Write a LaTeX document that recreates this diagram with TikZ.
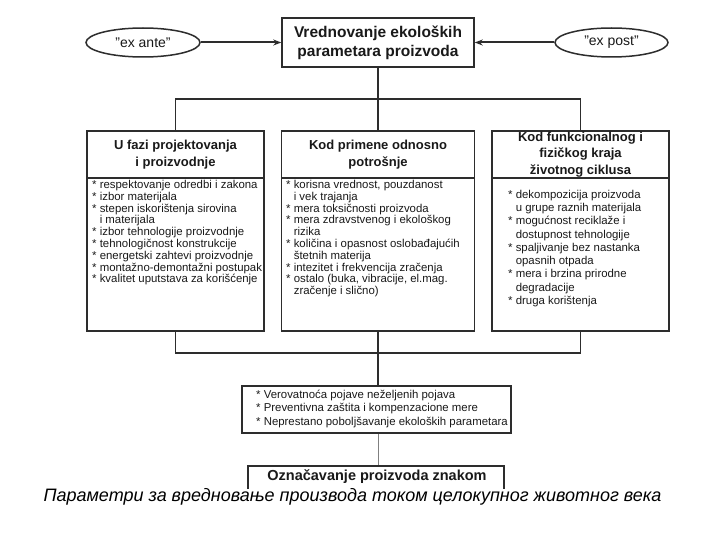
\documentclass[tikz,border=0pt]{standalone}
\usepackage{fontspec}
\setmainfont{Liberation Sans}
\usetikzlibrary{shapes.geometric,arrows.meta}
\newcommand\ind{\hphantom{*\ }}
\newcommand\qq{\symbol{34}}
\definecolor{linec}{RGB}{45,45,45}
\definecolor{txt}{RGB}{25,25,25}
\begin{document}
\begin{tikzpicture}[x=1pt,y=-1pt,
  box/.style={draw=linec, line width=1.5pt, inner sep=0pt, rectangle, text=txt},
  hdr/.style={box, minimum height=47pt, font=\fontsize{13}{16.3}\selectfont\bfseries, align=center},
  body/.style={box, minimum height=153pt},
  blt/.style={inner sep=0pt, anchor=north west, align=left, font=\fontsize{11.4}{11.8}\selectfont, text=txt},
  oval/.style={ellipse, draw=linec, line width=1.5pt, minimum width=114pt, minimum height=29pt, inner sep=0pt, text=txt, font=\fontsize{14}{16}\selectfont},
  conn/.style={draw=linec, line width=1.5pt},
  arr/.style={conn, line width=2pt, -{Stealth[length=8pt,width=6pt]}}
]
\fill[white] (0,0) rectangle (720,540);
\useasboundingbox (0,0) rectangle (720,540);

% top
\node[box, minimum width=192pt, minimum height=49pt, font=\fontsize{15.5}{19}\selectfont\bfseries, align=center] (top) at (378,42.5) {Vrednovanje ekoloških\\parametara proizvoda};
\node[oval] (ante) at (143,42.5) {\qq ex ante\qq};
\node[oval, minimum width=113pt] (post) at (611.5,42.5) {\qq ex post\qq};
\draw[arr] (ante.east) -- (top.west);
\draw[arr] (post.west) -- (top.east);

% three columns
\node[hdr, minimum width=177pt] (h1) at (175.5,154.5) {U fazi projektovanja\\i proizvodnje};
\node[hdr, minimum width=193pt] (h2) at (378,154.5) {Kod primene odnosno\\potrošnje};
\node[hdr, minimum width=177pt] (h3) at (580.5,154.5) {Kod funkcionalnog i\\fizičkog kraja\\životnog ciklusa};
\node[body, minimum width=177pt] (b1) at (175.5,254.5) {};
\node[body, minimum width=193pt] (b2) at (378,254.5) {};
\node[body, minimum width=177pt] (b3) at (580.5,254.5) {};

\node[blt] (t1) at (92,180) {* respektovanje odredbi i zakona\\
* izbor materijala\\
* stepen iskorištenja sirovina\\
\ind i materijala\\
* izbor tehnologije proizvodnje\\
* tehnologičnost konstrukcije\\
* energetski zahtevi proizvodnje\\
* montažno-demontažni postupak\\
* kvalitet uputstava za korišćenje};

\node[blt] (t2) at (286,180) {* korisna vrednost, pouzdanost\\
\ind i vek trajanja\\
* mera toksičnosti proizvoda\\
* mera zdravstvenog i ekološkog\\
\ind rizika\\
* količina i opasnost oslobađajućih\\
\ind štetnih materija\\
* intezitet i frekvencija zračenja\\
* ostalo (buka, vibracije, el.mag.\\
\ind zračenje i slično)};

\node[blt, font=\fontsize{11.4}{13.25}\selectfont] (t3) at (508,190) {* dekompozicija proizvoda\\
\ind u grupe raznih materijala\\
* mogućnost reciklaže i\\
\ind dostupnost tehnologije\\
* spaljivanje bez nastanka\\
\ind opasnih otpada\\
* mera i brzina prirodne\\
\ind degradacije\\
* druga korištenja};

% connectors
\coordinate (j1) at (378,99);
\draw[conn] (top.south) -- (h2.north);
\draw[conn] (h1.north) |- (j1) -| (h3.north);

\node[box, minimum width=269pt, minimum height=47pt] (bul) at (376.5,409.5) {};
\node[blt, font=\fontsize{11.4}{13.3}\selectfont] (t4) at (256,390) {* Verovatnoća pojave neželjenih pojava\\
* Preventivna zaštita i kompenzacione mere\\
* Neprestano poboljšavanje ekoloških parametara};

\coordinate (j2) at (378,353);
\draw[conn] (b1.south) |- (j2) -| (b3.south);
\draw[conn] (b2.south) -- (b2.south |- bul.north);

% bottom box (cut by caption)
\coordinate (oz) at (378,466);
\draw[draw=gray, line width=0.8pt] (bul.south -| oz) -- (oz);
\draw[conn] (248,489) -- (248,466) -- (504,466) -- (504,489);
\node[inner sep=0pt, text=txt, font=\fontsize{14.5}{17}\selectfont\bfseries] (oznac) at (377,477) {Označavanje proizvoda znakom};

% caption
\node[inner sep=0pt, font=\fontsize{18}{22}\selectfont\itshape] (cap) at (352.5,497) {Параметри за вредновање производа током целокупног животног века};
\end{tikzpicture}
\end{document}
